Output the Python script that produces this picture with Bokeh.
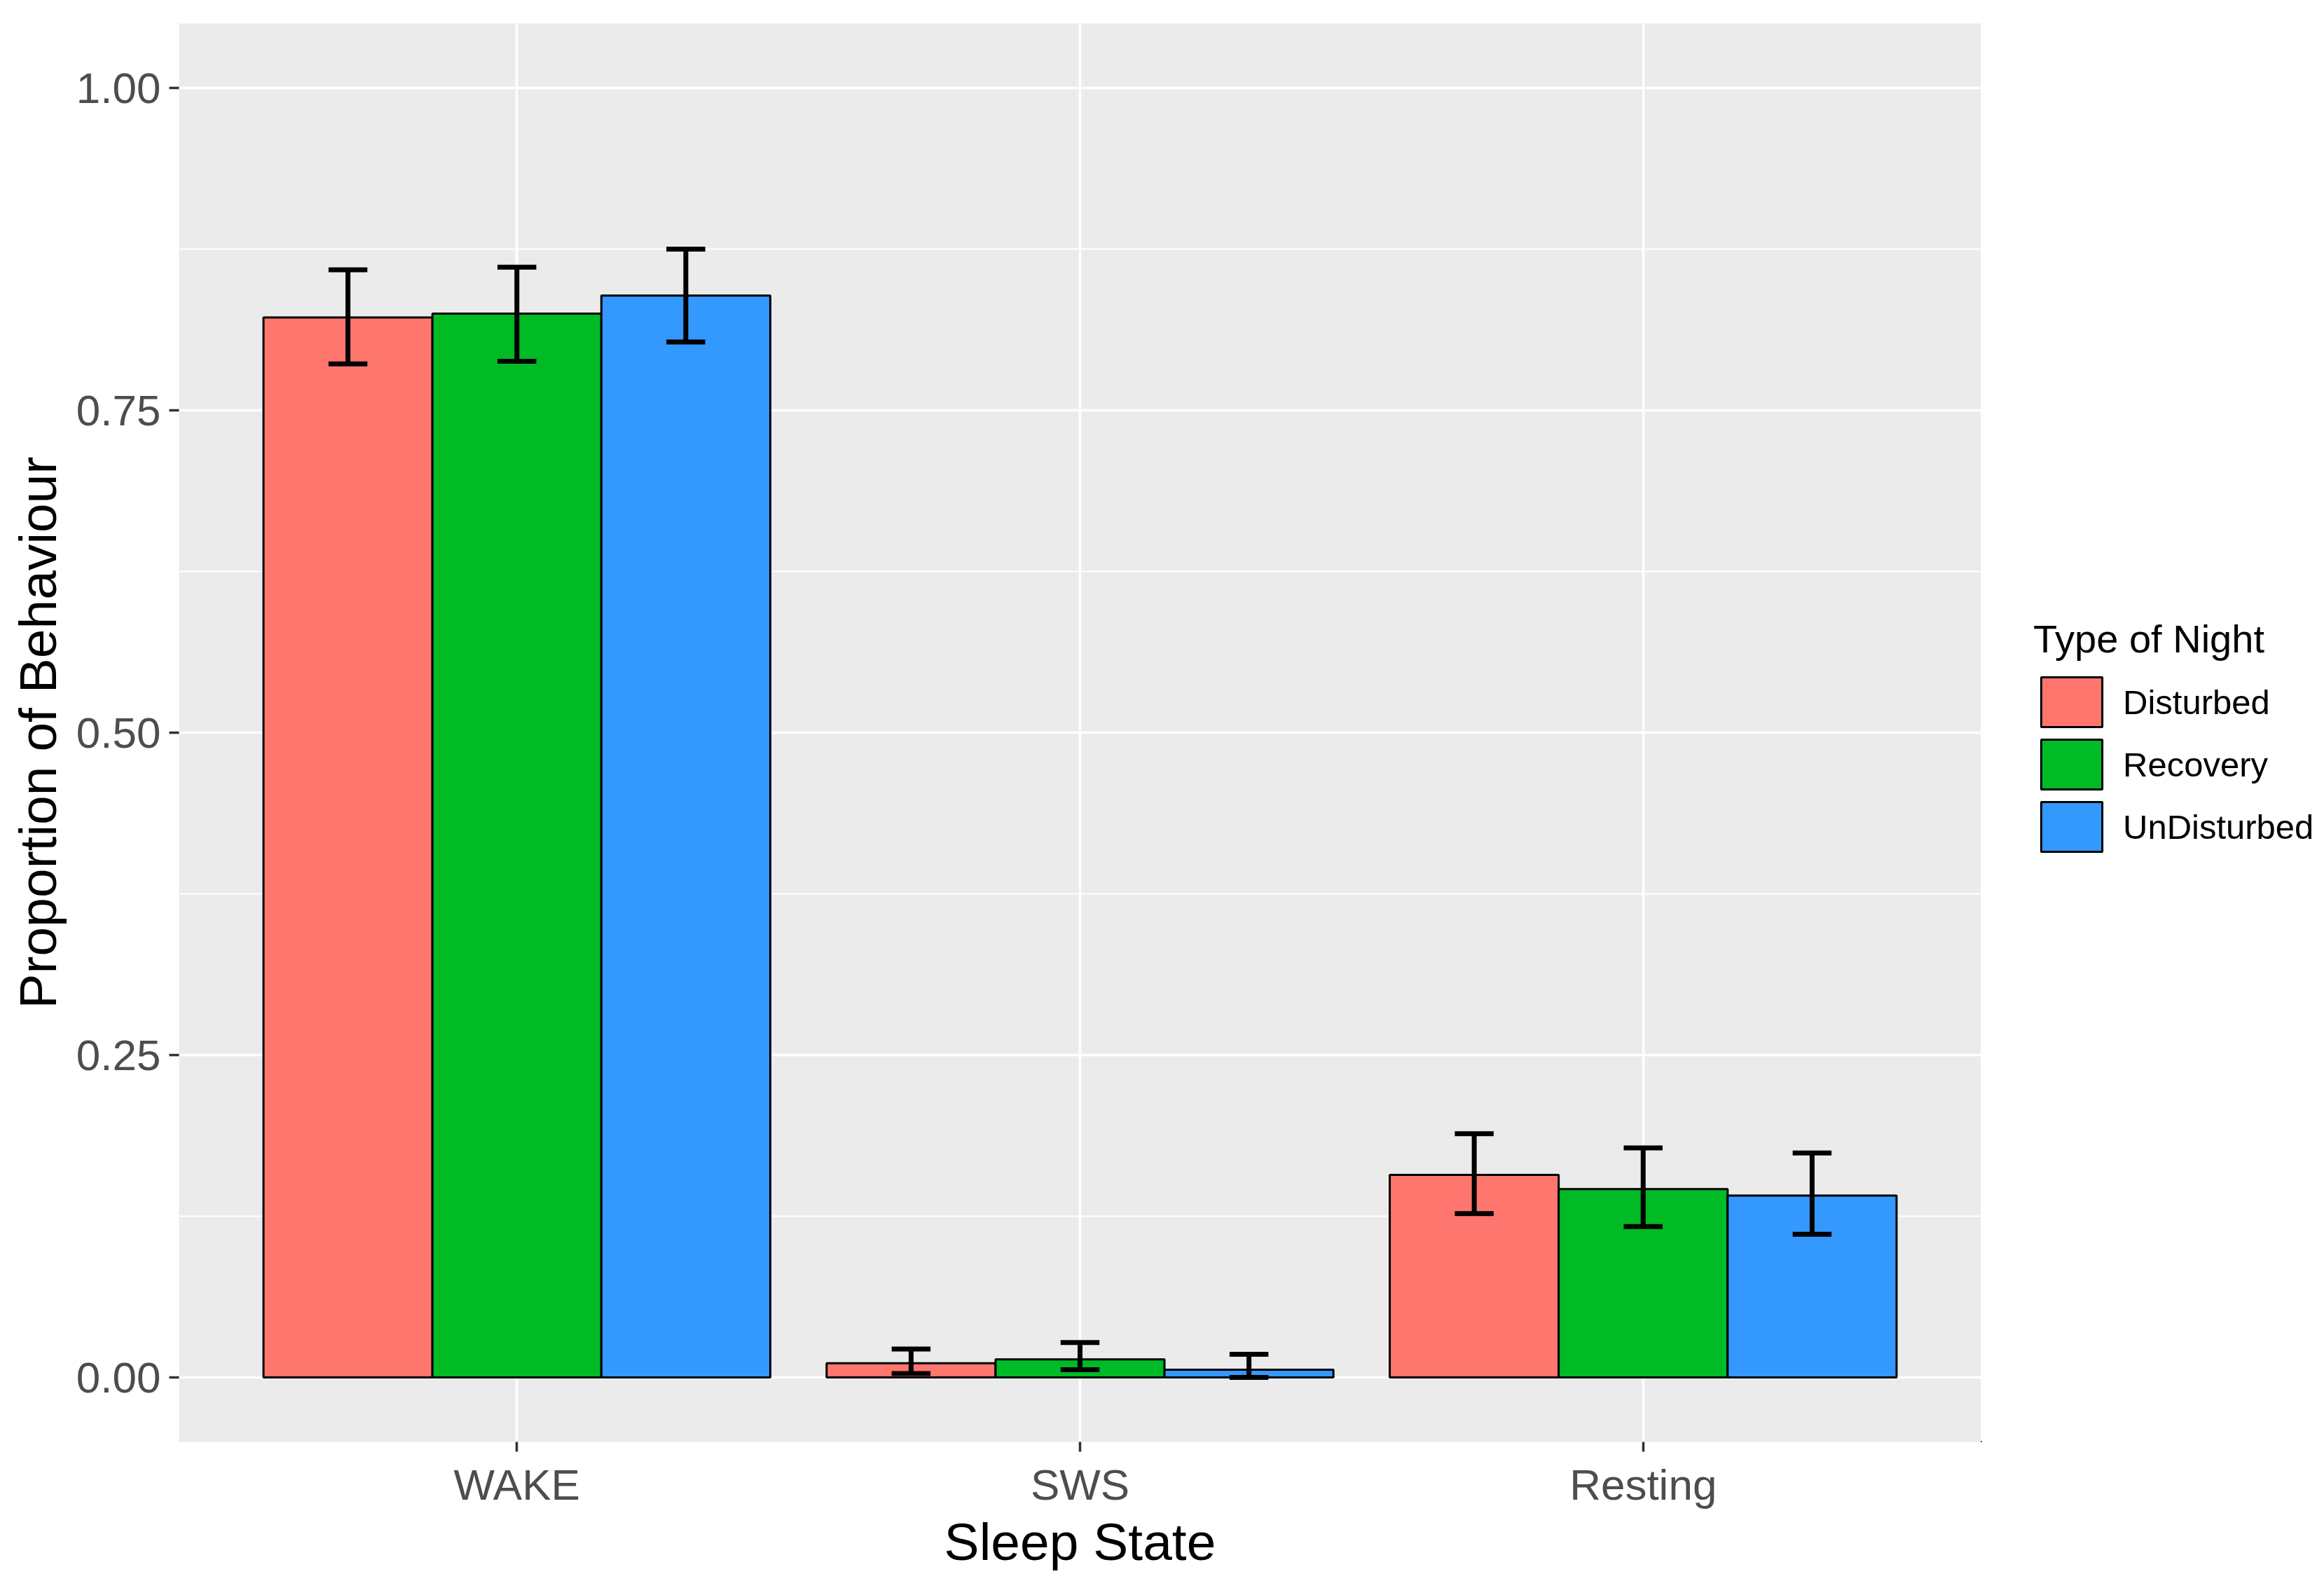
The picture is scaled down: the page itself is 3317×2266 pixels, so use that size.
from bokeh.plotting import figure
from bokeh.layouts import row
from bokeh.models import (ColumnDataSource, FactorRange, FixedTicker,
                          NumeralTickFormatter, Legend, LegendItem, Range1d)
from bokeh.transform import dodge
from bokeh.embed import file_html
from bokeh.resources import INLINE

# ---- data ----
states = ["WAKE", "SWS", "Resting"]
nights = ["Disturbed", "Recovery", "UnDisturbed"]

disturbed = [0.822, 0.011, 0.157]
recovery = [0.825, 0.014, 0.146]
undisturbed = [0.839, 0.006, 0.141]

disturbed_lower = [0.786, 0.003, 0.127]
disturbed_upper = [0.859, 0.022, 0.189]
recovery_lower = [0.788, 0.006, 0.117]
recovery_upper = [0.861, 0.027, 0.178]
undisturbed_lower = [0.803, 0.000, 0.111]
undisturbed_upper = [0.875, 0.018, 0.174]

y_ticks = [0.0, 0.25, 0.50, 0.75, 1.00]
y_minor = [0.125, 0.375, 0.625, 0.875]

colors = ["#FF766E", "#00BA26", "#3399FF"]
offsets = [-0.3, 0.0, 0.3]

series = [
    (disturbed, disturbed_lower, disturbed_upper),
    (recovery, recovery_lower, recovery_upper),
    (undisturbed, undisturbed_lower, undisturbed_upper),
]

FONT = "Liberation Sans"

# ---- main plot ----
p = figure(
    width=2827, height=2266,
    x_range=FactorRange(factors=states, range_padding=0.1, range_padding_units="absolute"),
    y_range=Range1d(-0.05, 1.05),
    output_backend="svg", toolbar_location=None,
    min_border_left=255, min_border_right=0,
    min_border_top=33, min_border_bottom=209,
)
p.background_fill_color = "#EBEBEB"
p.border_fill_color = "white"
p.outline_line_color = None

for (vals, lo, hi), col, off in zip(series, colors, offsets):
    src = ColumnDataSource(dict(state=states, value=vals, lower=lo, upper=hi))
    p.vbar(x=dodge("state", off, range=p.x_range), top="value", bottom=0,
           width=0.3, source=src, fill_color=col, line_color="black",
           line_width=3)

# error bars drawn on top of bars
cap = 0.0345
for (vals, lo, hi), off in zip(series, offsets):
    src = ColumnDataSource(dict(state=states, value=vals, lower=lo, upper=hi))
    p.segment(x0=dodge("state", off, range=p.x_range), y0="lower",
              x1=dodge("state", off, range=p.x_range), y1="upper",
              source=src, line_color="black", line_width=7)
    for yf in ("lower", "upper"):
        p.segment(x0=dodge("state", off - cap, range=p.x_range), y0=yf,
                  x1=dodge("state", off + cap, range=p.x_range), y1=yf,
                  source=src, line_color="black", line_width=7)

p.yaxis.ticker = FixedTicker(ticks=y_ticks, minor_ticks=y_minor)
p.yaxis.formatter = NumeralTickFormatter(format="0.00")
p.xaxis.axis_label = "Sleep State"
p.yaxis.axis_label = "Proportion of Behaviour"

for ax in (p.xaxis, p.yaxis):
    ax.axis_line_color = None
    ax.major_tick_line_color = "#333333"
    ax.major_tick_line_width = 3.5
    ax.major_tick_out = 14
    ax.major_tick_in = 0
    ax.minor_tick_out = 0
    ax.minor_tick_in = 0
    ax.major_label_text_font = FONT
    ax.major_label_text_font_size = "62px"
    ax.major_label_text_color = "#4D4D4D"
    ax.major_label_standoff = 12
    ax.axis_label_text_font = FONT
    ax.axis_label_text_font_size = "75px"
    ax.axis_label_text_font_style = "normal"
    ax.axis_label_text_color = "black"
p.xaxis.axis_label_standoff = 2
p.yaxis.axis_label_standoff = 10

p.xgrid.grid_line_color = "white"
p.xgrid.grid_line_width = 3.5
p.ygrid.grid_line_color = "white"
p.ygrid.grid_line_width = 3.5
p.ygrid.minor_grid_line_color = "white"
p.ygrid.minor_grid_line_width = 1.8

# ---- legend panel (separate, axis-free figure to the right) ----
lg = figure(
    width=490, height=2266,
    x_range=Range1d(0, 1), y_range=Range1d(0, 1),
    x_axis_type=None, y_axis_type=None,
    output_backend="svg", toolbar_location=None,
    min_border=0,
)
lg.outline_line_color = None
lg.background_fill_color = "white"
lg.border_fill_color = "white"

# key renderers: one off-screen point each, only used for legend swatches
key_renderers = []
for col in colors:
    r = lg.vbar(x=[-5], top=[-5], bottom=[-6], width=0.3, fill_color=col,
                line_color="black", line_width=3)
    key_renderers.append(r)

legend = Legend(
    items=[LegendItem(label=n, renderers=[r]) for n, r in zip(nights, key_renderers)],
    location=(75, 833),
    title="Type of Night",
    title_text_font=FONT, title_text_font_size="56px", title_text_color="black",
    title_text_font_style="normal", title_standoff=13,
    label_text_font=FONT, label_text_font_size="49px", label_text_color="black",
    glyph_width=109, glyph_height=89, label_height=89, spacing=0,
    label_standoff=19, padding=0, margin=0,
    border_line_color=None, background_fill_alpha=0,
)
lg.add_layout(legend, "center")

layout = row(p, lg, spacing=0)
open("out.html", "w").write(file_html(layout, INLINE))
